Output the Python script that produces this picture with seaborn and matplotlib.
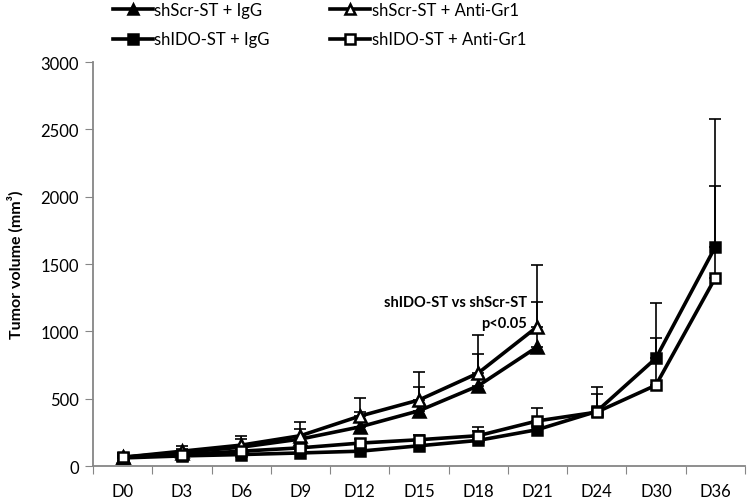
import numpy as np
import pandas as pd
import matplotlib
matplotlib.use("Agg")
import matplotlib.pyplot as plt
import seaborn as sns

days = ["D0", "D3", "D6", "D9", "D12", "D15", "D18", "D21", "D24", "D30", "D36"]

# mean tumor volume per group
scr_igg = [65, 100, 140, 200, 290, 410, 595, 885]
scr_gr1 = [65, 110, 155, 225, 370, 490, 690, 1035]
ido_igg = [60, 75, 85, 97, 110, 150, 190, 270, 405, 800, 1625]
ido_gr1 = [65, 85, 110, 135, 170, 195, 225, 335, 400, 600, 1395]

# upper error bar ends
scr_igg_top = [95, 130, 200, 275, 400, 590, 830, 1215]
scr_gr1_top = [100, 150, 225, 325, 505, 700, 975, 1490]
ido_igg_top = [75, 95, 110, 125, 150, 190, 260, 330, 590, 1210, 2575]
ido_gr1_top = [80, 105, 130, 160, 200, 230, 290, 430, 535, 950, 2080]

groups = [
    ("shScr-ST + IgG", scr_igg, scr_igg_top, "^", "black"),
    ("shScr-ST + Anti-Gr1", scr_gr1, scr_gr1_top, "^", "white"),
    ("shIDO-ST + IgG", ido_igg, ido_igg_top, "s", "black"),
    ("shIDO-ST + Anti-Gr1", ido_gr1, ido_gr1_top, "s", "white"),
]

plt.rcParams["font.family"] = ["Lato", "DejaVu Sans"]
fig = plt.figure(figsize=(7.47, 5.02), dpi=100)
ax = fig.add_axes([0.1245, 0.0697, 0.8725, 0.8048])

rows = []
for name, vals, tops, m, fc in groups:
    for i, v in enumerate(vals):
        rows.append({"day": i, "vol": v, "group": name, "top": tops[i]})
df = pd.DataFrame(rows)

# error bars first so the lines sit on top
for name, vals, tops, m, fc in groups:
    x = np.arange(len(vals))
    up = np.array(tops) - np.array(vals)
    ax.errorbar(x, vals, yerr=[np.zeros(len(vals)), up], fmt="none",
                ecolor="black", elinewidth=1.2, capsize=4, capthick=1.2, zorder=2)

handles = []
for name, vals, tops, m, fc in groups:
    sub = df[df["group"] == name]
    ms = 8.5 if m == "^" else 7.5
    sns.lineplot(data=sub, x="day", y="vol", ax=ax, color="black", lw=2.6,
                 marker=m, markersize=ms, markerfacecolor=fc,
                 markeredgecolor="black", markeredgewidth=1.8, zorder=3)
    h, = ax.plot([], [], color="black", lw=2.6, marker=m, markersize=ms - 1,
                 markerfacecolor=fc, markeredgecolor="black", markeredgewidth=1.8)
    handles.append((h, name))

ax.set_xlim(-0.5, 10.5)
ax.set_ylim(0, 3000)
ax.set_yticks(range(0, 3001, 500))
ax.set_xticks(np.arange(-0.5, 10.6, 1))
ax.set_xticklabels([])
ax.set_xticks(range(len(days)), minor=True)
ax.set_xticklabels(days, minor=True)
ax.tick_params(axis="x", which="minor", length=0, pad=12, labelsize=12)
ax.tick_params(axis="x", which="major", length=6, color="#868686")
ax.tick_params(axis="y", length=6, color="#868686", labelsize=12, pad=4)
for s in ["top", "right"]:
    ax.spines[s].set_visible(False)
for s in ["left", "bottom"]:
    ax.spines[s].set_color("#868686")
    ax.spines[s].set_linewidth(1.3)
ax.set_xlabel("")
ax.set_ylabel("Tumor volume (mm³)", fontsize=11.5, fontweight="bold", labelpad=12)

ax.text(6.82, 1010, "shIDO-ST vs shScr-ST\np<0.05", ha="right", va="bottom",
        fontsize=10.5, fontweight="bold", linespacing=1.6)

order = [0, 2, 1, 3]
ax.legend([handles[i][0] for i in order], [handles[i][1] for i in order],
          ncol=2, frameon=False, loc="upper left", bbox_to_anchor=(0.02, 1.165),
          fontsize=12, handlelength=2.4, handletextpad=0.1, columnspacing=3.6,
          labelspacing=0.8, borderaxespad=0)

fig.savefig("out.png", dpi=100)
